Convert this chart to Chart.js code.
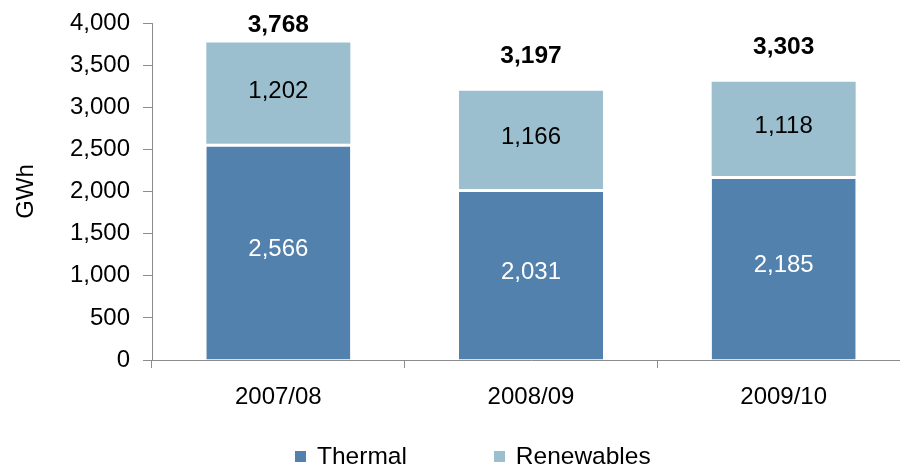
<!DOCTYPE html>
<html>
<head>
<meta charset="utf-8">
<script src="https://cdn.jsdelivr.net/npm/chart.js@4.4.1/dist/chart.umd.min.js"></script>
<style>
    body { margin: 0; width: 900px; height: 469px; overflow: hidden; background: #fff; }
    #wrap { position: relative; width: 912px; height: 469px; }
    #legend {
        position: absolute; top: 442px; left: 295px;
        font-family: "Liberation Sans", Arial, sans-serif; font-size: 24.5px; color: #000;
        display: flex; white-space: nowrap;
    }
    #legend .item { display: flex; align-items: center; }
    #legend .box { width: 11px; height: 11px; margin-right: 11px; }
</style>
</head>
<body>
<div id="wrap">
    <canvas id="barChart" width="912" height="469"></canvas>
    <div id="legend"></div>
</div>
<script>
const categories = ["2007/08", "2008/09", "2009/10"];
const thermal = [2566, 2031, 2185];
const renewables = [1202, 1166, 1118];
const totals = [3768, 3197, 3303];
const yTicks = [0, 500, 1000, 1500, 2000, 2500, 3000, 3500, 4000];

const fontName = '"Liberation Sans", Arial, sans-serif';
const fmt = v => v.toLocaleString('en-US');

// labels inside each segment, totals above the stack
const valueLabels = {
    id: 'valueLabels',
    afterDatasetsDraw(chart) {
        const ctx = chart.ctx;
        ctx.save();
        ctx.textAlign = 'center';
        ctx.textBaseline = 'middle';
        chart.data.datasets.forEach((ds, i) => {
            const meta = chart.getDatasetMeta(i);
            ctx.font = '24px ' + fontName;
            ctx.fillStyle = i === 0 ? '#ffffff' : '#000000';
            meta.data.forEach((bar, j) => {
                const mid = (bar.y + bar.base) / 2;
                ctx.fillText(fmt(ds.data[j]), bar.x, mid - 2);
            });
        });
        const top = chart.getDatasetMeta(1);
        ctx.font = 'bold 24.5px ' + fontName;
        ctx.fillStyle = '#000000';
        top.data.forEach((bar, j) => {
            const y = Math.max(bar.y - 34, 25);
            ctx.fillText(fmt(totals[j]), bar.x, y);
        });
        ctx.restore();
    }
};

const ctx = document.getElementById('barChart').getContext('2d');
const chart = new Chart(ctx, {
    type: 'bar',
    data: {
        labels: categories,
        datasets: [
            {
                label: 'Thermal',
                data: thermal,
                backgroundColor: '#5381AD',
                borderColor: '#ffffff',
                borderWidth: { top: 3, left: 0, right: 0, bottom: 0 },
                borderSkipped: false
            },
            {
                label: 'Renewables',
                data: renewables,
                backgroundColor: '#9BBFCE',
                borderWidth: 0
            }
        ]
    },
    options: {
        responsive: false,
        animation: false,
        layout: { padding: { left: 0, right: 2, top: 23, bottom: 49 } },
        datasets: { bar: { categoryPercentage: 0.57, barPercentage: 1 } },
        plugins: {
            legend: { display: false },
            tooltip: { enabled: false }
        },
        scales: {
            x: {
                stacked: true,
                afterFit: s => { s.height = 60; s.paddingLeft = 0; s.paddingRight = 0; },
                border: { color: '#8c8c8c', width: 1 },
                grid: { offset: true, drawOnChartArea: false, tickLength: 8, color: '#8c8c8c' },
                ticks: { color: '#000', padding: 15, font: { family: fontName, size: 24 } }
            },
            y: {
                stacked: true,
                min: 0,
                max: 4000,
                afterFit: s => { s.width = 152; s.paddingTop = 0; s.paddingBottom = 0; },
                afterBuildTicks: s => { s.ticks = yTicks.map(v => ({ value: v })); },
                border: { color: '#8c8c8c', width: 1 },
                grid: { drawOnChartArea: false, tickLength: 9, color: '#8c8c8c' },
                ticks: {
                    color: '#000',
                    padding: 13,
                    font: { family: fontName, size: 24 },
                    callback: v => fmt(v)
                },
                title: {
                    display: true,
                    text: 'GWh',
                    color: '#000',
                    padding: { top: 12, bottom: 0 },
                    font: { family: fontName, size: 24 }
                }
            }
        }
    },
    plugins: [valueLabels]
});

// legend below the chart
const legendEl = document.getElementById('legend');
chart.data.datasets.forEach((ds, i) => {
    const item = document.createElement('div');
    item.className = 'item';
    if (i > 0) item.style.marginLeft = '87px';
    const box = document.createElement('span');
    box.className = 'box';
    box.style.background = ds.backgroundColor;
    const txt = document.createElement('span');
    txt.textContent = ds.label;
    item.appendChild(box);
    item.appendChild(txt);
    legendEl.appendChild(item);
});
</script>
</body>
</html>
